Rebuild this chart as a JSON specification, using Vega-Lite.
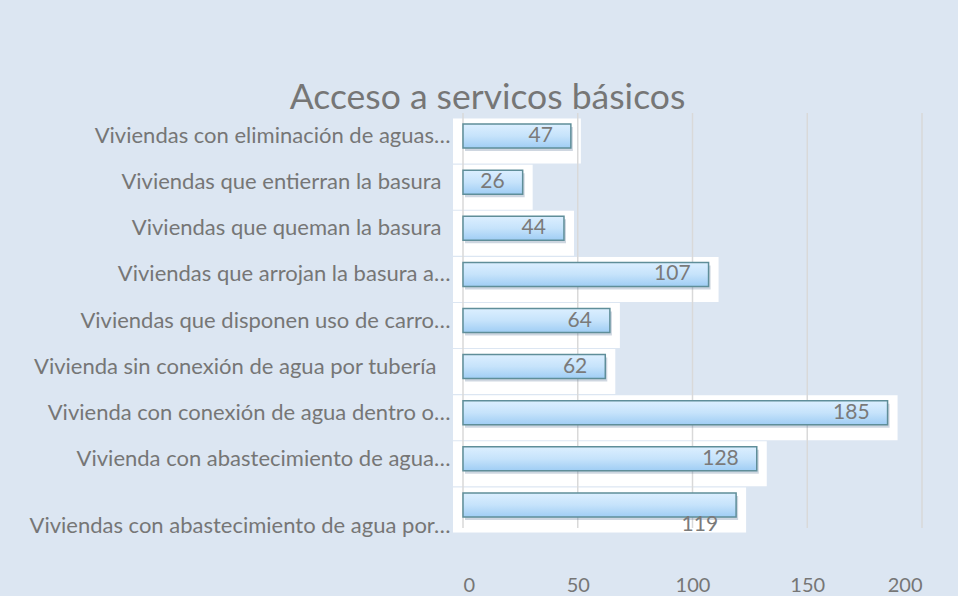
{
  "$schema": "https://vega.github.io/schema/vega-lite/v6.json",
  "width": 459,
  "height": 415,
  "autosize": {"type": "none"},
  "padding": {"left": 463, "top": 113, "right": 36, "bottom": 68},
  "background": "#dce6f2",
  "config": {"view": {"stroke": null}, "font": "Lato"},
  "title": {
    "text": "Acceso a servicos básicos",
    "fontSize": 35.5,
    "font": "Lato",
    "fontWeight": "normal",
    "color": "#767676",
    "anchor": "middle",
    "frame": "group",
    "baseline": "alphabetic",
    "dx": -205,
    "offset": -32
  },
  "data": {
    "values": [
      {"cat": "Viviendas con eliminación de aguas…", "v": 47},
      {"cat": "Viviendas que entierran la basura", "v": 26},
      {"cat": "Viviendas que queman la basura", "v": 44},
      {"cat": "Viviendas que arrojan la basura  a…", "v": 107},
      {"cat": "Viviendas que disponen uso de carro…", "v": 64},
      {"cat": "Vivienda sin conexión de agua por tubería", "v": 62},
      {"cat": "Vivienda con conexión de agua dentro o…", "v": 185},
      {"cat": "Vivienda con abastecimiento de agua…", "v": 128},
      {"cat": "Viviendas con abastecimiento de agua por…", "v": 119}
    ]
  },
  "layer": [
    {
      "mark": {"type": "bar", "color": "white", "height": 45, "yOffset": 5, "xOffset": 10, "x2Offset": -10},
      "encoding": {
        "y": {
          "field": "cat", "type": "nominal", "sort": null, "title": null,
          "scale": {"paddingInner": 0, "paddingOuter": 0},
          "axis": {
            "domain": false, "ticks": false, "grid": false,
            "labelFontSize": 22, "labelColor": "#767676",
            "labelFont": "Lato", "labelLimit": 460,
            "labelPadding": {"condition": [
              {"test": "indexof(['Viviendas que entierran la basura','Viviendas que queman la basura'], datum.value) >= 0", "value": 22},
              {"test": "datum.value == 'Vivienda sin conexión de agua por tubería'", "value": 27}
            ], "value": 13},
            "labelOffset": {"condition": {"test": "datum.value == 'Viviendas con abastecimiento de agua por…'", "value": 21}, "value": 0}
          }
        },
        "x": {
          "field": "v", "type": "quantitative", "title": null,
          "scale": {"domain": [0, 200], "nice": false},
          "axis": {
            "values": [0, 50, 100, 150, 200], "grid": false, "domain": false, "ticks": false,
            "labelPadding": 47, "labelFontSize": 20, "labelColor": "#767676", "labelFont": "Lato"
          }
        },
        "x2": {"datum": 0}
      }
    },
    {
      "data": {"values": [{"g": 0}, {"g": 50}, {"g": 100}, {"g": 150}, {"g": 200}]},
      "mark": {"type": "rule", "color": "#d9d9d9", "strokeWidth": 1.5},
      "encoding": {"x": {"field": "g", "type": "quantitative", "title": null}}
    },
    {
      "mark": {"type": "bar", "color": "#5d7898", "opacity": 0.3, "height": 24, "yOffset": 3, "xOffset": 2},
      "encoding": {
        "y": {"field": "cat", "type": "nominal", "sort": null, "title": null},
        "x": {"field": "v", "type": "quantitative", "title": null}
      }
    },
    {
      "mark": {
        "type": "bar", "height": 24, "stroke": "#5f8e99", "strokeWidth": 1.5,
        "fill": {
          "gradient": "linear", "x1": 0, "y1": 0, "x2": 0, "y2": 1,
          "stops": [
            {"offset": 0, "color": "#dcefff"},
            {"offset": 0.5, "color": "#c6e3fb"},
            {"offset": 1, "color": "#9fcdf4"}
          ]
        }
      },
      "encoding": {
        "y": {"field": "cat", "type": "nominal", "sort": null, "title": null},
        "x": {"field": "v", "type": "quantitative", "title": null}
      }
    },
    {
      "mark": {
        "type": "text", "align": "right", "baseline": "middle", "dx": -18,
        "fontSize": 21, "font": "Lato", "color": "#7a7a7a",
        "dy": {"expr": "datum.cat == 'Viviendas con abastecimiento de agua por…' ? 20 : 0"}
      },
      "encoding": {
        "y": {"field": "cat", "type": "nominal", "sort": null, "title": null},
        "x": {"field": "v", "type": "quantitative", "title": null},
        "text": {"field": "v", "type": "quantitative"}
      }
    }
  ]
}
